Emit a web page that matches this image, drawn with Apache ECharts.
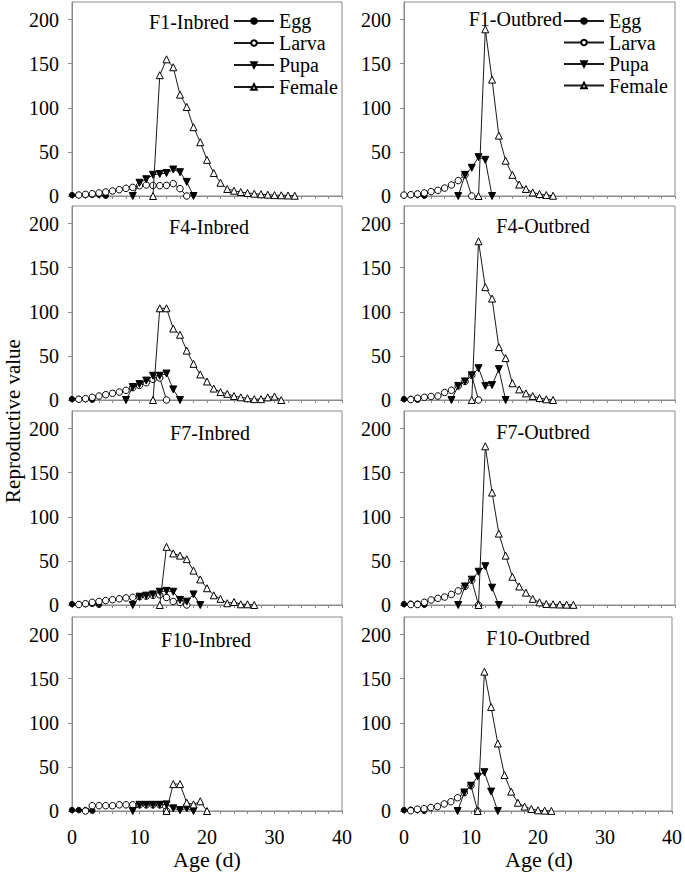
<!DOCTYPE html>
<html><head><meta charset="utf-8">
<script src="https://cdn.jsdelivr.net/npm/echarts@6/dist/echarts.min.js"></script>
<style>html,body{margin:0;padding:0;background:#fff}#c{width:685px;height:872px}</style>
</head><body><div id="c"></div>
<script>
const STAGES = ['Egg', 'Larva', 'Pupa', 'Female'];
const PANEL_TITLES = ['F1-Inbred', 'F1-Outbred', 'F4-Inbred', 'F4-Outbred', 'F7-Inbred', 'F7-Outbred', 'F10-Inbred', 'F10-Outbred'];
const X_TICKS = [0, 2, 4, 6, 8, 10, 12, 14, 16, 18, 20, 22, 24, 26, 28, 30, 32, 34, 36, 38, 40];
const X_LABELS = [0, 10, 20, 30, 40];
const Y_TICKS = [0, 50, 100, 150, 200];
const X_NAME = 'Age (d)';
const Y_NAME = 'Reproductive value';

// [age, reproductive value]
const F1_IN_EGG = [[0, 1.0], [1, 1.1], [2, 1.2], [3, 1.4], [4, 1.6], [5, 0.3]];
const F1_IN_LARVA = [[1, 1.1], [2, 1.9], [3, 2.6], [4, 3.4], [5, 4.5], [6, 5.7], [7, 7.2], [8, 8.7], [9, 9.8], [10, 11.7], [11, 12.5], [12, 12], [13, 11.7], [14, 12], [15, 14], [16, 8.3], [17, 0]];
const F1_IN_PUPA = [[9, 0], [10, 15], [11, 19], [12, 24], [13, 25], [14, 26], [15, 30], [16, 27], [17, 16], [18, 0]];
const F1_IN_FEMALE = [[12, 0], [13, 137], [14, 155], [15, 146], [16, 115], [17, 101], [18, 78], [19, 61], [20, 41], [21, 26], [22, 15], [23, 8], [24, 6], [25, 4.5], [26, 3.5], [27, 2.6], [28, 2], [29, 1.5], [30, 1], [31, 0.8], [32, 0.6], [33, 0.3]];

const F1_OUT_EGG = [[0, 1.0], [1, 1.3], [2, 1.5], [3, 0.3]];
const F1_OUT_LARVA = [[0, 1], [1, 1.5], [2, 2.3], [3, 3.4], [4, 5], [5, 6.4], [6, 9], [7, 12.5], [8, 17.5], [9, 24], [10, 0]];
const F1_OUT_PUPA = [[8, 0], [9, 24], [10, 32], [11, 44], [12, 41], [13, 0]];
const F1_OUT_FEMALE = [[11, 0], [12, 189], [13, 132], [14, 68.5], [15, 40], [16, 24], [17, 13], [18, 8], [19, 4], [20, 2.3], [21, 1.1], [22, 0.3]];

const F4_IN_EGG = [[0, 1], [1, 1.2], [2, 1.3], [3, 0.3]];
const F4_IN_LARVA = [[1, 0.8], [2, 1.5], [3, 3], [4, 4.5], [5, 6], [6, 7.5], [7, 9], [8, 11], [9, 14], [10, 16.6], [11, 19.6], [12, 23.4], [13, 25], [14, 0]];
const F4_IN_PUPA = [[8, 0], [9, 14.7], [10, 18], [11, 22], [12, 27.5], [13, 27.5], [14, 30], [15, 12], [16, 0]];
const F4_IN_FEMALE = [[12, 0], [13, 104], [14, 104], [15, 81], [16, 74], [17, 56], [18, 41], [19, 29], [20, 21], [21, 13], [22, 9], [23, 7], [24, 4.5], [25, 3], [26, 2], [27, 1], [28, 1], [29, 3], [30, 4], [31, 0]];

const F4_OUT_EGG = [[0, 1], [1, 1.2], [2, 0.3]];
const F4_OUT_LARVA = [[1, 0.5], [2, 2], [3, 3], [4, 4], [5, 4.5], [6, 8.5], [7, 11], [8, 16], [9, 21], [10, 28], [11, 0]];
const F4_OUT_PUPA = [[7, 0], [8, 16], [9, 21], [10, 28], [11, 36], [12, 16], [13, 17], [14, 35], [15, 0]];
const F4_OUT_FEMALE = [[10, 0], [11, 180], [12, 128], [13, 115], [14, 60], [15, 47.5], [16, 19], [17, 12], [18, 7.5], [19, 4.5], [20, 2.3], [21, 0.8], [22, 0]];

const F7_IN_EGG = [[0, 1], [1, 1], [2, 1.2], [3, 1.3], [4, 0.3]];
const F7_IN_LARVA = [[1, 0.5], [2, 1.5], [3, 3], [4, 4], [5, 5], [6, 6], [7, 7], [8, 8], [9, 8.7], [10, 9.4], [11, 10], [12, 11], [13, 11.5], [14, 8.5], [15, 4], [16, 3], [17, 0]];
const F7_IN_PUPA = [[9, 0], [10, 9.4], [11, 10.6], [12, 12], [13, 15], [14, 16], [15, 15], [16, 5.7], [17, 3.8], [18, 12], [19, 0]];
const F7_IN_FEMALE = [[13, 0], [14, 66], [15, 58.5], [16, 56], [17, 52], [18, 39], [19, 29], [20, 19], [21, 11], [22, 7], [23, 2], [24, 3.4], [25, 0.8], [26, 0.8], [27, 0]];

const F7_OUT_EGG = [[0, 1], [1, 1.5], [2, 1.5], [3, 0.3]];
const F7_OUT_LARVA = [[1, 0.5], [2, 0.5], [3, 3], [4, 5.7], [5, 7.5], [6, 9], [7, 12], [8, 16], [9, 21], [10, 28], [11, 0]];
const F7_OUT_PUPA = [[8, 0], [9, 21], [10, 28.7], [11, 37.7], [12, 44], [13, 19.6], [14, 0]];
const F7_OUT_FEMALE = [[11, 0], [12, 180], [13, 127.5], [14, 81], [15, 56], [16, 32], [17, 21], [18, 14], [19, 7], [20, 3], [21, 1.2], [22, 0.8], [23, 0.6], [24, 0.4], [25, 0.2]];

const F10_IN_EGG = [[0, 1], [1, 1], [2, 1], [3, 0.3]];
const F10_IN_LARVA = [[2, 0], [3, 6], [4, 6], [5, 6], [6, 6], [7, 7], [8, 7], [9, 7], [10, 7], [11, 7], [12, 7], [13, 7], [14, 0]];
const F10_IN_PUPA = [[9, 0], [10, 7], [11, 7], [12, 7], [13, 7], [14, 7.5], [15, 3], [16, 1], [17, 3], [18, 0]];
const F10_IN_FEMALE = [[14, 0], [15, 30.5], [16, 30.5], [17, 9.4], [18, 7.5], [19, 11], [20, 0]];

const F10_OUT_EGG = [[0, 1], [1, 1.5], [2, 1.2], [3, 0.3]];
const F10_OUT_LARVA = [[1, 0.3], [2, 2], [3, 2.6], [4, 4], [5, 5], [6, 8], [7, 10.5], [8, 15], [9, 20.8], [10, 28.7], [11, 0]];
const F10_OUT_PUPA = [[8, 0], [9, 21], [10, 28.7], [11, 39], [12, 44], [13, 22], [14, 0]];
const F10_OUT_FEMALE = [[11, 0], [12, 158], [13, 118], [14, 76.6], [15, 40.8], [16, 22], [17, 9.4], [18, 5], [19, 2.3], [20, 0.8], [21, 0.4], [22, 0.1]];

const PANEL_DATA = [
  [F1_IN_EGG, F1_IN_LARVA, F1_IN_PUPA, F1_IN_FEMALE],
  [F1_OUT_EGG, F1_OUT_LARVA, F1_OUT_PUPA, F1_OUT_FEMALE],
  [F4_IN_EGG, F4_IN_LARVA, F4_IN_PUPA, F4_IN_FEMALE],
  [F4_OUT_EGG, F4_OUT_LARVA, F4_OUT_PUPA, F4_OUT_FEMALE],
  [F7_IN_EGG, F7_IN_LARVA, F7_IN_PUPA, F7_IN_FEMALE],
  [F7_OUT_EGG, F7_OUT_LARVA, F7_OUT_PUPA, F7_OUT_FEMALE],
  [F10_IN_EGG, F10_IN_LARVA, F10_IN_PUPA, F10_IN_FEMALE],
  [F10_OUT_EGG, F10_OUT_LARVA, F10_OUT_PUPA, F10_OUT_FEMALE]
];

const FONT = 'Liberation Serif';
const GRID_LEFT = [72, 404];
const GRID_WIDTH = [270, 271];
const GRID_TOP = [2, 206, 411, 617];
const GRID_H = 194;
const AXIS_GRAY = '#8a8a8a';

const STAGE_STYLE = {
  Egg: { symbol: 'circle', symbolSize: 5.5, symbolRotate: 0, fill: '#000' },
  Larva: { symbol: 'circle', symbolSize: 6.5, symbolRotate: 0, fill: '#fff' },
  Pupa: { symbol: 'triangle', symbolSize: 7, symbolRotate: 180, fill: '#000' },
  Female: { symbol: 'triangle', symbolSize: 7, symbolRotate: 0, fill: '#fff' }
};

const grids = [], xAxes = [], yAxes = [], series = [], graphics = [];
for (let p = 0; p < 8; p++) {
  const col = p % 2, row = Math.floor(p / 2);
  grids.push({ left: GRID_LEFT[col], top: GRID_TOP[row], width: GRID_WIDTH[col], height: GRID_H,
    show: true, borderColor: AXIS_GRAY, borderWidth: 1, backgroundColor: 'transparent' });
  const bottom = row === 3;
  xAxes.push({ type: 'value', gridIndex: p, min: 0, max: 40, interval: 2,
    axisLine: { show: true, onZero: false, lineStyle: { color: AXIS_GRAY, width: 1 } },
    axisTick: { show: true, inside: false, length: 3, customValues: X_TICKS, lineStyle: { color: AXIS_GRAY } },
    axisLabel: { show: bottom, customValues: X_LABELS, margin: 16, color: '#000', fontSize: 20, fontFamily: FONT },
    splitLine: { show: false } });
  yAxes.push({ type: 'value', gridIndex: p, min: 0, max: 220, interval: 50,
    axisLine: { show: true, lineStyle: { color: AXIS_GRAY, width: 1 } },
    axisTick: { show: true, inside: false, length: 4, customValues: Y_TICKS, lineStyle: { color: AXIS_GRAY } },
    axisLabel: { customValues: Y_TICKS, margin: 13, color: '#000', fontSize: 20, fontFamily: FONT },
    splitLine: { show: false } });
  STAGES.forEach((st, si) => {
    const s = STAGE_STYLE[st];
    series.push({ type: 'line', name: st, xAxisIndex: p, yAxisIndex: p, data: PANEL_DATA[p][si],
      symbol: s.symbol, symbolSize: s.symbolSize, symbolRotate: s.symbolRotate, showSymbol: true,
      lineStyle: { color: '#1a1a1a', width: 1 },
      itemStyle: { color: s.fill, borderColor: '#000', borderWidth: 1 },
      z: 2 + si, animation: false, emphasis: { disabled: true } });
  });
}

const TITLE_POS = [
  { x: 229, y: 22, align: 'right' }, { x: 562, y: 19, align: 'right' },
  { x: 209, y: 227, align: 'center' }, { x: 543, y: 226, align: 'center' },
  { x: 210, y: 433, align: 'center' }, { x: 543, y: 432, align: 'center' },
  { x: 206, y: 640, align: 'center' }, { x: 538, y: 638, align: 'center' }
];
function txt(text, x, y, size, align, rotation) {
  return { type: 'text', x: x, y: y, rotation: rotation || 0, silent: true,
    style: { text: text, fill: '#000', fontSize: size, fontFamily: FONT, fontWeight: 'normal',
      textAlign: align, textVerticalAlign: 'middle' } };
}
PANEL_TITLES.forEach((t, i) => graphics.push(txt(t, TITLE_POS[i].x, TITLE_POS[i].y, 20, TITLE_POS[i].align)));
graphics.push(txt(X_NAME, 207, 859, 22, 'center'));
graphics.push(txt(X_NAME, 539, 859, 22, 'center'));
graphics.push(txt(Y_NAME, 13, 421, 21, 'center', Math.PI / 2));

const legendBase = { orient: 'vertical', itemWidth: 40, itemHeight: 7, padding: 0, selectedMode: false,
  textStyle: { fontSize: 20, fontFamily: FONT, color: '#000' }, data: STAGES };
const chart = echarts.init(document.getElementById('c'), null, { renderer: 'svg' });
chart.setOption({
  animation: false,
  backgroundColor: '#fff',
  grid: grids, xAxis: xAxes, yAxis: yAxes, series: series,
  legend: [Object.assign({}, legendBase, { left: 233, top: 11, itemGap: 2 }),
           Object.assign({}, legendBase, { left: 563, top: 11, itemGap: 1.5 })],
  graphic: graphics
});
</script></body></html>
